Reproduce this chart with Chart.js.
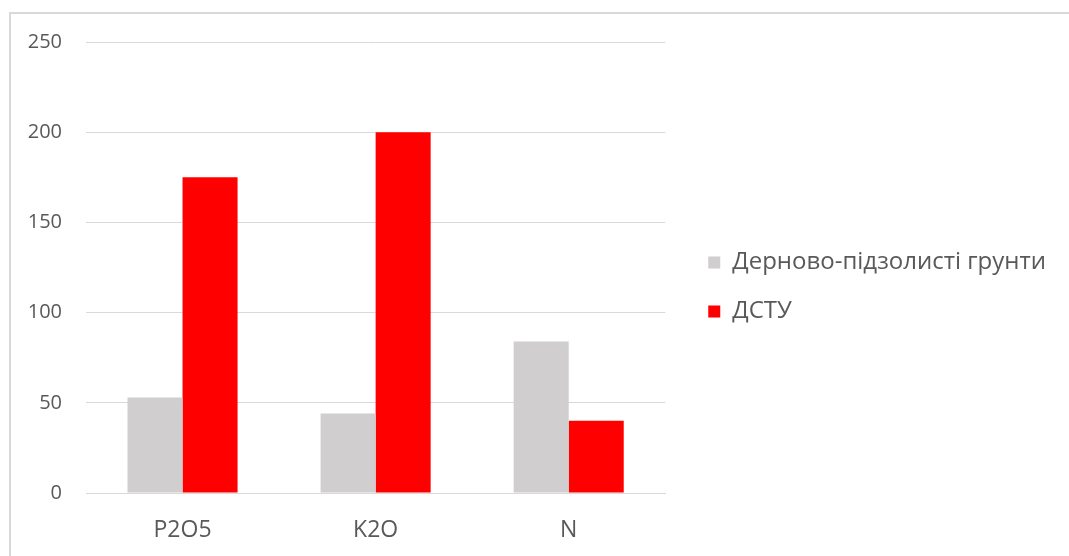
<!DOCTYPE html>
<html>
<head>
<meta charset="utf-8">
<script src="https://cdn.jsdelivr.net/npm/chart.js@4.4.1/dist/chart.umd.min.js"></script>
<style>
  html, body { margin: 0; padding: 0; background: #fff; }
  canvas { display: block; }
</style>
</head>
<body>
<canvas id="myChart" width="1069" height="556"></canvas>
<script>
const categories = ['P2O5', 'K2O', 'N'];
const soilValues = [53, 44, 84];
const dstuValues = [175, 200, 40];
const soilLabel = 'Дерново-підзолисті грунти';
const dstuLabel = 'ДСТУ';

const textColor = '#595959';
const gridColor = '#d9d9d9';
const fontFamily = 'Open Sans';

// thin frame around the chart, open to the right and bottom edges
const framePlugin = {
  id: 'frame',
  beforeDraw(chart) {
    const c = chart.ctx;
    c.save();
    c.fillStyle = '#ffffff';
    c.fillRect(0, 0, chart.width, chart.height);
    c.strokeStyle = '#d9d9d9';
    c.lineWidth = 2;
    c.strokeRect(10, 13, chart.width + 20, chart.height + 20);
    c.restore();
  }
};

// legend box gets capped in width (and clipped), so widen it to the
// canvas edge and nudge it after layout
const legendOffset = { x: 18, y: -12 };
const legendShift = {
  id: 'legendShift',
  afterLayout(chart) {
    const lg = chart.legend;
    lg.left += legendOffset.x;
    lg.right = chart.width;
    lg.width = lg.right - lg.left;
    lg.top += legendOffset.y;
    lg.bottom += legendOffset.y;
  }
};

const ctx = document.getElementById('myChart');

new Chart(ctx, {
  type: 'bar',
  data: {
    labels: categories,
    datasets: [{
      label: soilLabel,
      data: soilValues,
      backgroundColor: '#d0cece',
    }, {
      label: dstuLabel,
      data: dstuValues,
      backgroundColor: '#ff0000',
    }],
  },
  options: {
    responsive: false,
    animation: false,
    categoryPercentage: 0.57,
    barPercentage: 1,
    layout: {
      padding: { top: 42, left: 0, right: 182, bottom: 0 },
    },
    scales: {
      x: {
        grid: { display: false, drawTicks: false },
        border: { color: gridColor, width: 1 },
        ticks: {
          color: textColor,
          font: { family: fontFamily, size: 23 },
          padding: 24,
        },
        afterFit(scale) { scale.height = 63; },
      },
      y: {
        min: 0,
        max: 250,
        ticks: {
          stepSize: 50,
          color: textColor,
          font: { family: fontFamily, size: 20 },
          padding: 24,
        },
        grid: { color: gridColor, lineWidth: 1, drawTicks: false },
        border: { display: false },
        afterFit(scale) { scale.width = 86; },
      },
    },
    plugins: {
      legend: {
        position: 'right',
        labels: {
          color: textColor,
          font: { family: fontFamily, size: 24 },
          boxWidth: 12,
          boxHeight: 12,
          padding: 25,
        },
      },
      tooltip: { enabled: false },
    },
  },
  plugins: [framePlugin, legendShift],
});
</script>
</body>
</html>
